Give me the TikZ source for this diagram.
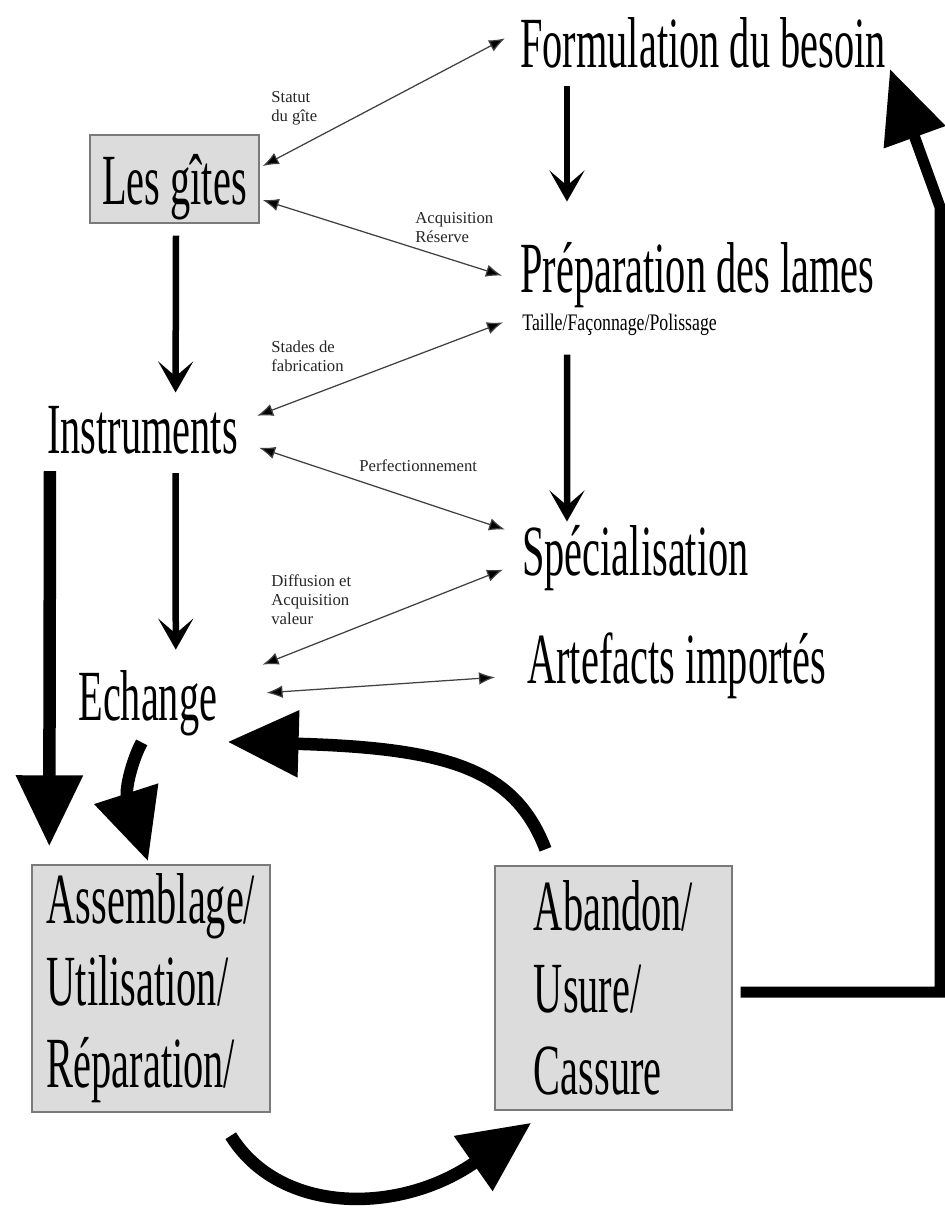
\documentclass[tikz,border=0pt]{standalone}
\usepackage{fontspec}
\setmainfont{Liberation Serif}
\newfontfamily\condserif[FakeStretch=0.56]{Liberation Serif}
\newfontfamily\semicond[FakeStretch=0.75]{Liberation Serif}
\usetikzlibrary{arrows.meta}
\definecolor{boxgray}{HTML}{DCDCDC}
\definecolor{edgegray}{HTML}{7A7A7A}
\definecolor{thingray}{HTML}{404040}
\begin{document}
\begin{tikzpicture}[x=0.02cm, y=-0.02cm,
    big/.style={font=\condserif\fontsize{41}{46.6}\selectfont, inner sep=0pt, anchor=base west},
    note/.style={font=\fontsize{9.5}{10.8}\selectfont, text=black!85, inner sep=0pt, anchor=north west, align=left},
    box/.style={draw=edgegray, line width=0.03cm, fill=boxgray, align=left, inner sep=0pt, font=\condserif\fontsize{41}{46.6}\selectfont},
    link/.style={{Latex[length=0.32cm,width=0.25cm,fill=black]}-{Latex[length=0.32cm,width=0.25cm,fill=black]}, draw=thingray, line width=0.025cm},
    flow/.style={-{Stealth[length=0.62cm,width=0.7cm,inset=0.3cm]}, line width=0.13cm},
    heavy/.style={-{Triangle[length=1.42cm,width=1.28cm]}, line width=0.25cm}]
    \useasboundingbox (0,0) rectangle (945,1209);
    \node[big] (form) at (520,68) {Formulation du besoin};
    \node[big] (prep) at (520,293) {Préparation des lames};
    \node[font=\semicond\fontsize{13.5}{15}\selectfont, inner sep=0pt, anchor=base west] (taille) at (522,330) {Taille/Façonnage/Polissage};
    \node[big] (spec) at (522,575) {Spécialisation};
    \node[big] (arte) at (527,683) {Artefacts importés};
    \node[big] (instr) at (47,453) {Instruments};
    \node[big] (ech) at (78,720) {Echange};
    \node[box, text depth=0pt, minimum width=3.38cm, minimum height=1.76cm] (gites) at (174.5,179) {Les gîtes};
    \node[box, minimum width=4.76cm, minimum height=4.94cm] (assem) at (151,988.5) {Assemblage/\\Utilisation/\\Réparation/};
    \node[box, minimum width=4.74cm, minimum height=4.88cm] (aband) at (613.5,988) {Abandon/\\Usure/\\Cassure};

    \node[note] (statut) at (271,91) {Statut\\du gîte};
    \node[note] (acq) at (415,212) {Acquisition\\Réserve};
    \node[note] (stades) at (271,341) {Stades de\\fabrication};
    \node[note] (perf) at (359,459) {Perfectionnement};
    \node[note] (diff) at (271,574) {Diffusion et\\Acquisition\\valeur};

    \draw[link] ([xshift=0.06cm,yshift=0.26cm]gites.east) -- ([xshift=-0.3cm,yshift=0.1cm]form.west);
    \draw[link] ([xshift=0.06cm,yshift=-0.42cm]gites.east) -- ([xshift=-0.36cm]prep.west);
    \draw[link] ([xshift=0.38cm,yshift=0.28cm]instr.east) -- ([xshift=-0.38cm,yshift=0.04cm]taille.west);
    \draw[link] ([xshift=0.42cm,yshift=-0.36cm]instr.east) -- ([xshift=-0.34cm,yshift=-0.1cm]spec.north west);
    \draw[link] ([xshift=0.9cm,yshift=0.1cm]ech.north east) -- ([xshift=-0.38cm,yshift=-0.24cm]spec.west);
    \draw[link] ([xshift=0.98cm,yshift=0.2cm]ech.east) -- ([xshift=-0.64cm,yshift=-0.24cm]arte.west);

    \draw[flow] ([xshift=0.94cm,yshift=-0.34cm]form.south west) -- ([xshift=0.94cm,yshift=0.82cm]prep.north west);
    \draw[flow] ([xshift=0.94cm,yshift=-0.92cm]prep.south west) -- ([xshift=0.9cm,yshift=0.06cm]spec.north west);
    \draw[flow] ([xshift=0.03cm,yshift=-0.24cm]gites.south) -- ([xshift=0.66cm,yshift=0.26cm]instr.north);
    \draw[flow] ([xshift=0.66cm,yshift=-0.38cm]instr.south) -- ([xshift=0.56cm,yshift=0.4cm]ech.north);

    \draw[heavy] ([xshift=0.06cm,yshift=-0.34cm]instr.south west) -- ([xshift=0.36cm,yshift=0.36cm]assem.north west);
    \draw[heavy] ([xshift=-0.12cm,yshift=-0.13cm]ech.south) .. controls (132,760) and (125,790) .. ([xshift=-0.06cm,yshift=0.06cm]assem.north);
    \draw[heavy] ([xshift=-1.36cm,yshift=0.32cm]aband.north) .. controls (515,770) and (450,748) .. ([xshift=0.2cm,yshift=-0.12cm]ech.south east);
    \draw[heavy] ([xshift=-0.8cm,yshift=-0.46cm]assem.south east) .. controls (280,1215) and (400,1215) .. ([xshift=0.74cm,yshift=-0.24cm]aband.south west);
    \coordinate (rtop) at (940,207);
    \draw[line width=0.22cm, -{Triangle[length=1.45cm,width=1.26cm]}] ([xshift=0.16cm,yshift=-0.08cm]aband.east) -| (rtop) -- ([xshift=0.08cm]form.south east);
\end{tikzpicture}
\end{document}
